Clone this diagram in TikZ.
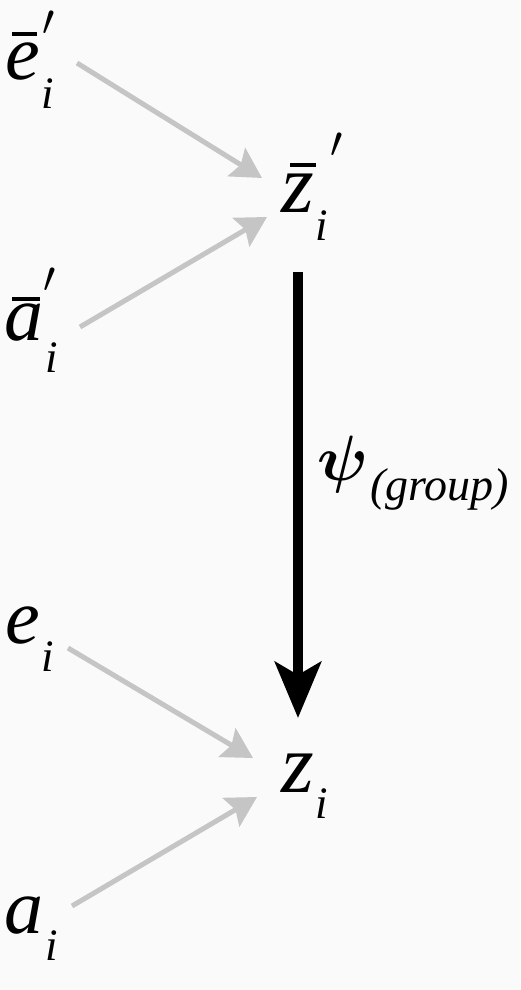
\RequirePackage{fix-cm}
\documentclass[tikz,border=0pt]{standalone}
\usepackage{fontspec}
\setmainfont{Liberation Serif}
\usetikzlibrary{arrows.meta}
\definecolor{bgc}{RGB}{250,250,250}
\definecolor{arrgray}{RGB}{197,197,197}
\tikzset{
  big/.style={inner sep=0pt, anchor=base west, font=\fontsize{78}{78}\selectfont\itshape},
  bigz/.style={inner sep=0pt, anchor=base west, font=\fontsize{84}{84}\selectfont\itshape},
  primemk/.style={inner sep=0pt, anchor=base west, font=\fontsize{44}{44}\selectfont},
  sub/.style={inner sep=0pt, anchor=base west, font=\fontsize{45}{45}\selectfont\itshape},
  grouplbl/.style={inner sep=0pt, anchor=base west, font=\fontsize{46}{46}\selectfont\itshape},
  psilbl/.style={inner sep=0pt, anchor=base west, font=\fontsize{64}{64}\selectfont\boldmath},
  barline/.style={line width=3.8pt, black},
  grayarrow/.style={draw=arrgray, line width=5pt, -{Stealth[length=30pt,width=33pt,inset=5pt]}, fill=arrgray},
  blackarrow/.style={draw=black, line width=10pt, -{Stealth[length=56pt,width=46pt,inset=13pt]}, fill=black}
}
\begin{document}
\begin{tikzpicture}[x=1pt,y=-1pt]
\fill[bgc] (0,0) rectangle (520,990);
\useasboundingbox (0,0) rectangle (520,990);
% top-left: e bar prime
\node[big] (e1) at (5,80) {e};
\node[primemk] (e1p) at (42,36) {$\prime$};
\node[sub] (e1i) at (41,108) {i};
\draw[barline] (12,34) -- (37,34);
% a bar prime
\node[big] (a1) at (4,340) {a};
\node[primemk] (a1p) at (43,292) {$\prime$};
\node[sub] (a1i) at (45,372) {i};
\draw[barline] (12,299) -- (40,299);
% z bar prime
\node[bigz] (zb) at (281,212) {z};
\node[primemk] (zbp) at (330,157) {$\prime$};
\node[sub] (zbi) at (315,240) {i};
\draw[barline] (290,165) -- (316,165);
% lower
\node[big] (e2) at (5,643) {e};
\node[sub] (e2i) at (41,671) {i};
\node[bigz] (z2) at (281,792) {z};
\node[sub] (z2i) at (315,818) {i};
\node[big] (a2) at (4,933) {a};
\node[sub] (a2i) at (45,960) {i};
% psi label
\node[psilbl] (psi) at (317,480) {$\psi$};
\node[grouplbl] (grp) at (370,500) {(group)};
% connector ends
\coordinate (c1s) at (77,63);   \coordinate (c1e) at (262,178);
\coordinate (c2s) at (80,327);  \coordinate (c2e) at (267,217);
\coordinate (c3s) at (68,648);  \coordinate (c3e) at (253,758);
\coordinate (c4s) at (72,906);  \coordinate (c4e) at (257,797);
\coordinate (bs) at (298,272);  \coordinate (be) at (298,718);
\draw[grayarrow] (c1s) -- (c1e);
\draw[grayarrow] (c2s) -- (c2e);
\draw[grayarrow] (c3s) -- (c3e);
\draw[grayarrow] (c4s) -- (c4e);
\draw[blackarrow] (bs) -- (be);
\end{tikzpicture}
\end{document}
